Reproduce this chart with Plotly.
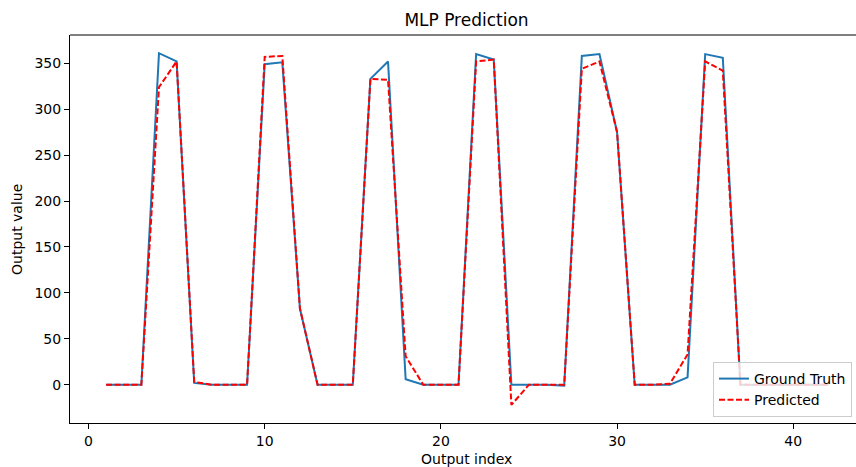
import plotly.graph_objects as go

x_index = list(range(1, 43))
ground_truth = [0, 0, 0, 361, 352, 2, 0, 0, 0, 349, 351, 83, 0, 0, 0, 333, 352, 6, 0, 0, 0,
                360, 354, 0, 0, 0, -1, 358, 360, 275, 0, 0, 0, 8, 360, 356, 0, 0, 0, 0, 0, 0]
predicted = [0, 0, 0, 324, 352, 3, 0, 0, 0, 357, 358, 83, 0, 0, 0, 333, 332, 31, 0, 0, 0,
             352, 354, -22, 0, 0, 0, 344, 352, 275, 0, 0, 1, 33, 352, 342, 0, 0, 0, 0, 0, 0]
x_ticks = [0, 10, 20, 30, 40]
y_ticks = [0, 50, 100, 150, 200, 250, 300, 350]

FONT = "DejaVu Sans"
FS = 14
fig = go.Figure()
fig.add_trace(go.Scatter(x=x_index, y=ground_truth, mode="lines", name="Ground Truth",
                         line=dict(color="#1f77b4", width=2)))
fig.add_trace(go.Scatter(x=x_index, y=predicted, mode="lines", name="Predicted",
                         line=dict(color="red", width=2, dash="6px,2.5px")))

axis_common = dict(showline=True, linecolor="black", linewidth=1, ticks="outside",
                   ticklen=5, tickwidth=1, tickcolor="black", showgrid=False,
                   zeroline=False, tickfont=dict(family=FONT, size=FS, color="black"))
fig.update_xaxes(range=[-1.05, 43.56], tickvals=x_ticks, **axis_common)
fig.update_yaxes(range=[-41.7, 380.8], tickvals=y_ticks, **axis_common)

fig.update_layout(
    width=856, height=467,
    margin=dict(l=70, r=0, t=35, b=44),
    plot_bgcolor="white", paper_bgcolor="white",
    font=dict(family=FONT, size=FS, color="black"),
    title=dict(text="MLP Prediction", x=466.5 / 856, xref="container", xanchor="center",
               y=1 - 20 / 467, yref="container", yanchor="middle",
               font=dict(family=FONT, size=17, color="black")),
    showlegend=True,
    legend=dict(x=(713 - 70) / 786, xanchor="left", y=0.0155, yanchor="bottom",
                bgcolor="rgba(255,255,255,0.8)", bordercolor="#cccccc", borderwidth=1,
                font=dict(family=FONT, size=FS, color="black"), itemwidth=30,
                tracegroupgap=0),
    shapes=[dict(type="line", xref="paper", yref="paper", x0=0, x1=1, y0=1, y1=1,
                 line=dict(color="black", width=1), layer="above")],
    annotations=[
        dict(text="Output index", xref="paper", yref="paper", x=(466.5 - 70) / 786,
             y=(423 - 459) / 388, xanchor="center", yanchor="middle", showarrow=False,
             font=dict(family=FONT, size=FS, color="black")),
        dict(text="Output value", xref="paper", yref="paper", x=(17 - 70) / 786,
             y=0.5, xanchor="center", yanchor="middle", textangle=-90, showarrow=False,
             font=dict(family=FONT, size=FS, color="black")),
    ],
)
fig.write_html("out.html", config={"displayModeBar": False},
               post_script="document.body.style.margin='0';document.body.style.overflow='hidden';")
